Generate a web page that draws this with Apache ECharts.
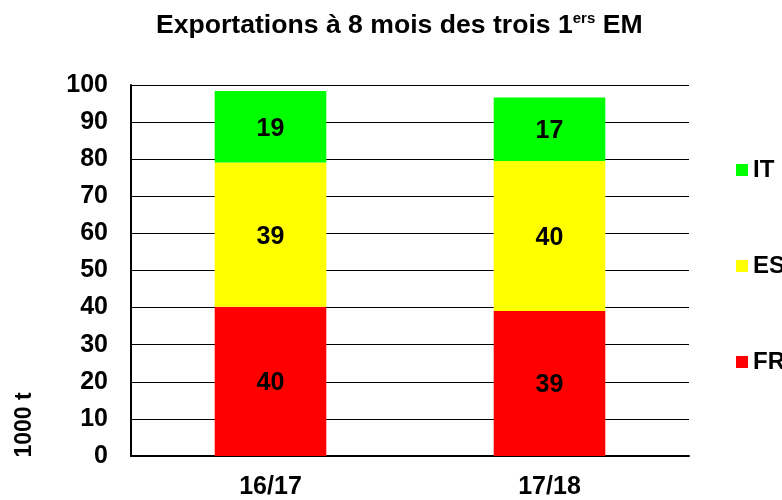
<!DOCTYPE html>
<html>
<head>
<meta charset="utf-8">
<script src="https://cdn.jsdelivr.net/npm/echarts@6/dist/echarts.min.js"></script>
<style>html,body{margin:0;padding:0;background:#fff}#c{width:782px;height:500px}</style>
</head>
<body>
<div id="c"></div>
<script>
const categories = ['16/17', '17/18'];
const FR = [40.2, 39.1];
const ES = [38.9, 40.4];
const IT = [19.3, 17.1];
const yTicks = [0, 10, 20, 30, 40, 50, 60, 70, 80, 90, 100];
const legendOrder = ['IT', 'ES', 'FR'];

const FONT = '"Liberation Sans", Arial, Helvetica, sans-serif';
const chart = echarts.init(document.getElementById('c'), null, {renderer: 'canvas'});
const lbl = {show: true, position: 'inside', offset: [0, 2], color: '#000', fontFamily: FONT, fontWeight: 'bold', fontSize: 25,
  formatter: p => Math.round(p.value)};
function mk(name, data, color) {
  return {name, type: 'bar', stack: 'tot', data, barWidth: '40%', itemStyle: {color}, label: lbl};
}
chart.setOption({
  animation: false,
  backgroundColor: '#fff',
  title: {
    text: '{a|Exportations à 8 mois des trois 1}{b|ers}{a| EM}',
    left: 151, top: 6,
    textStyle: {
      rich: {
        a: {fontFamily: FONT, fontWeight: 'bold', fontSize: 26.6, color: '#000', lineHeight: 30},
        b: {fontFamily: FONT, fontWeight: 'bold', fontSize: 15, color: '#000', verticalAlign: 'top', lineHeight: 18}
      }
    }
  },
  grid: {left: 131, right: 93, top: 85, bottom: 43, containLabel: false},
  legend: {
    orient: 'vertical', left: 731, top: 153, itemWidth: 12, itemHeight: 12, itemGap: 72,
    data: legendOrder, icon: 'rect',
    textStyle: {fontFamily: FONT, fontWeight: 'bold', fontSize: 24, color: '#000', lineHeight: 24}
  },
  xAxis: {
    type: 'category', data: categories,
    axisLine: {lineStyle: {color: '#000', width: 2}},
    axisTick: {show: false},
    axisLabel: {color: '#000', fontFamily: FONT, fontWeight: 'bold', fontSize: 25, margin: 19}
  },
  yAxis: {
    type: 'value', min: yTicks[0], max: yTicks[yTicks.length - 1], interval: 10,
    axisLine: {show: true, lineStyle: {color: '#000', width: 2}},
    axisTick: {show: false},
    splitLine: {lineStyle: {color: '#000', width: 1}},
    axisLabel: {color: '#000', fontFamily: FONT, fontWeight: 'bold', fontSize: 25, margin: 23}
  },
  graphic: [{
    type: 'text', x: 25, y: 425, rotation: Math.PI / 2,
    style: {text: '1000 t', fill: '#000', font: 'bold 23px ' + FONT, textAlign: 'center', textVerticalAlign: 'middle'}
  }],
  series: [mk('FR', FR, '#ff0000'), mk('ES', ES, '#ffff00'), mk('IT', IT, '#00ff00')]
});
</script>
</body>
</html>
